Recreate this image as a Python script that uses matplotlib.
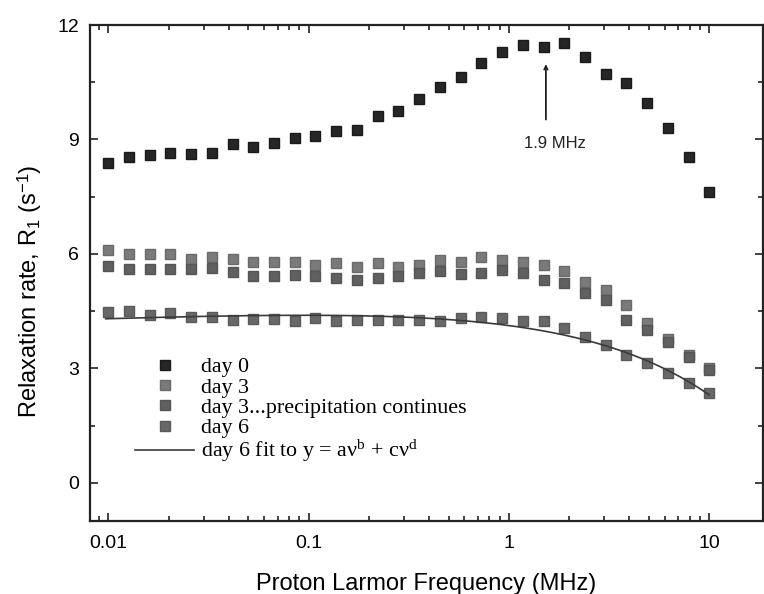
import numpy as np
import matplotlib
matplotlib.use("Agg")
import matplotlib.pyplot as plt
from matplotlib.lines import Line2D
from matplotlib.ticker import FixedLocator, LogLocator, NullFormatter, MultipleLocator

plt.rcParams['font.family'] = ['Liberation Sans', 'DejaVu Sans']
plt.rcParams['mathtext.fontset'] = 'custom'
plt.rcParams['mathtext.rm'] = 'Liberation Serif'
plt.rcParams['mathtext.it'] = 'Liberation Serif:italic'
plt.rcParams['mathtext.sf'] = 'Liberation Sans'

# ── data: proton Larmor frequency (MHz) and R1 (s^-1) ──────────────
freq = [0.0100, 0.0127, 0.0161, 0.0204, 0.0259, 0.0329, 0.0417, 0.0529,
        0.0672, 0.0853, 0.108, 0.137, 0.174, 0.221, 0.281, 0.356, 0.452,
        0.574, 0.728, 0.924, 1.17, 1.49, 1.89, 2.40, 3.04, 3.86, 4.90,
        6.22, 7.90, 10.0]

day0 = [8.38, 8.55, 8.59, 8.64, 8.61, 8.65, 8.88, 8.80, 8.90, 9.03,
        9.09, 9.23, 9.25, 9.62, 9.75, 10.05, 10.38, 10.65, 11.01, 11.28,
        11.48, 11.43, 11.52, 11.17, 10.72, 10.47, 9.95, 9.29, 8.55, 7.61]

day3 = [6.09, 6.00, 6.00, 6.00, 5.86, 5.91, 5.86, 5.78, 5.78, 5.80,
        5.71, 5.76, 5.67, 5.76, 5.65, 5.71, 5.84, 5.78, 5.93, 5.84,
        5.78, 5.71, 5.54, 5.27, 5.06, 4.66, 4.20, 3.78, 3.36, 3.02]

day3_precip = [5.69, 5.61, 5.61, 5.61, 5.60, 5.63, 5.52, 5.43, 5.43, 5.45,
               5.41, 5.37, 5.32, 5.37, 5.42, 5.49, 5.54, 5.47, 5.49, 5.58,
               5.49, 5.32, 5.25, 4.97, 4.80, 4.27, 4.00, 3.68, 3.30, 2.97]

day6 = [4.49, 4.51, 4.40, 4.46, 4.34, 4.34, 4.27, 4.29, 4.29, 4.25,
        4.32, 4.25, 4.27, 4.27, 4.26, 4.27, 4.25, 4.33, 4.34, 4.32,
        4.23, 4.25, 4.07, 3.83, 3.60, 3.35, 3.14, 2.87, 2.61, 2.35]

# ── fit day 6 to y = a v^b + c v^d, relative errors ─────────────────
# grid over the two exponents, weighted linear least squares for a and c
nu = np.array(freq)
y6 = np.array(day6)
w = 1.0 / y6 ** 2
best = None
for b in np.linspace(-1.5, 1.5, 151):
    for d in np.linspace(-1.5, 4.0, 221):
        if abs(b - d) < 1e-6:
            continue
        A = np.column_stack([nu ** b, nu ** d])
        coef = np.linalg.lstsq(A * w[:, None], y6 * w, rcond=None)[0]
        err = np.sum(((A @ coef - y6) * w) ** 2)
        if best is None or err < best[0]:
            best = (err, coef[0], b, coef[1], d)
_, fa, fb, fc, fd = best
nu_fit = np.logspace(np.log10(0.0097), 1, 300)
y_fit = fa * nu_fit ** fb + fc * nu_fit ** fd

# ── plot ────────────────────────────────────────────────────────────
fig = plt.figure(figsize=(7.64, 5.94), dpi=100)
ax = fig.add_axes([0.1178, 0.1229, 0.8805, 0.835])

ms = 7
ax.plot(freq, day0, 's', color='#262626', ms=ms, mec='#1a1a1a', label='day 0')
ax.plot(freq, day3, 's', color='#7a7a7a', ms=ms, mec='#6a6a6a', label='day 3')
ax.plot(freq, day3_precip, 's', color='#606060', ms=ms, mec='#555555',
        label='day 3...precipitation continues')
ax.plot(freq, day6, 's', color='#686868', ms=ms, mec='#5a5a5a', label='day 6')
ax.plot(nu_fit, y_fit, '-', color='#3a3a3a', lw=1.2)

ax.set_xscale('log')
ax.set_xlim(0.0081, 18.5)
ax.set_ylim(-1, 12)

ax.xaxis.set_major_locator(FixedLocator([0.01, 0.1, 1, 10]))
ax.set_xticklabels(['0.01', '0.1', '1', '10'])
ax.xaxis.set_minor_locator(LogLocator(base=10, subs=np.arange(2, 10)))
ax.xaxis.set_minor_formatter(NullFormatter())
ax.yaxis.set_major_locator(MultipleLocator(3))
ax.yaxis.set_minor_locator(MultipleLocator(1.5))

ax.tick_params(which='both', direction='in', top=True, right=True,
               labelsize=14, width=1.2, color='#222222')
ax.tick_params(which='major', length=6)
ax.tick_params(which='minor', length=3.5)
ax.tick_params(axis='y', pad=8)
ax.tick_params(axis='x', pad=10)
for s in ax.spines.values():
    s.set_linewidth(1.6)
    s.set_color('#222222')

ax.set_xlabel('Proton Larmor Frequency (MHz)', fontsize=17, labelpad=15)
ax.set_ylabel(r'Relaxation rate, R$_\mathsf{1}$ (s$^\mathsf{-1}$)', fontsize=17)
ax.yaxis.set_label_coords(-0.068, 0.464)

# peak marker
ax.annotate('', xy=(1.53, 11.05), xytext=(1.53, 9.45),
            arrowprops=dict(arrowstyle='->,head_length=0.25,head_width=0.12',
                            lw=1.3, color='#222222'))
ax.text(1.70, 8.9, '1.9 MHz', fontsize=12, ha='center', va='center',
        color='#222222')

# legend
handles, labels = ax.get_legend_handles_labels()
handles.append(Line2D([], [], color='#3a3a3a', lw=1.2))
labels.append(r'day 6 fit to y = aν$^{\mathrm{b}}$ + cν$^{\mathrm{d}}$')
ax.legend(handles, labels, loc='upper left', bbox_to_anchor=(0.067, 0.331),
          frameon=False, borderpad=0, borderaxespad=0, handlelength=2.7,
          handletextpad=0.3, labelspacing=0.0,
          prop={'family': 'Liberation Serif', 'size': 15.8})

fig.savefig('out.png', dpi=100)
